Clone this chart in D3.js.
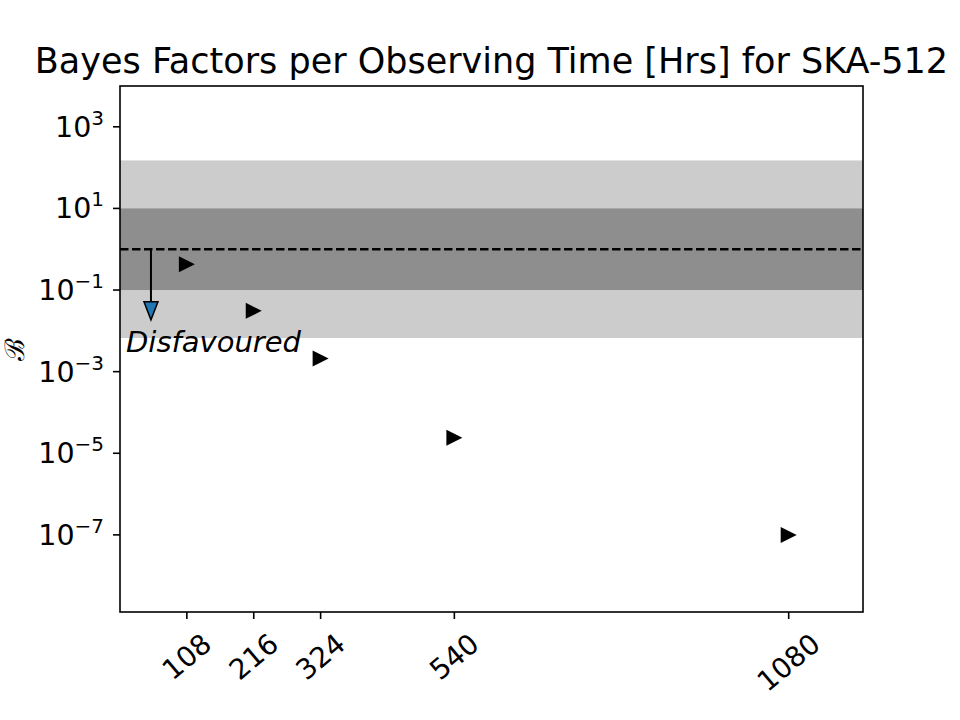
<!DOCTYPE html>
<html>
<head>
<meta charset="utf-8">
<script src="https://cdn.jsdelivr.net/npm/d3@7"></script>
<style>
  body { margin: 0; background: #fff; }
  svg { font-family: "DejaVu Sans", sans-serif; }
</style>
</head>
<body>
<svg width="960" height="720"></svg>
<script>
// Данные графика
const times = [108, 216, 324, 540, 1080];
const bayes = [0.43, 0.031, 0.0021, 2.4e-5, 1e-7];
const tickExps = [3, 1, -1, -3, -5, -7];
const bandInner = [0.1, 10];
const bandOuter = [1 / 150, 150];
const refLine = 1;
const arrowX = 50;
const arrowFrom = 1;
const arrowTo = 0.0186;

const width = 960, height = 720;
const m = { left: 120, right: 863, top: 86, bottom: 612 };

const svg = d3.select("svg");

const x = d3.scaleLinear().domain([0, 1200]).range([m.left, m.right]);
const y = d3.scaleLog().domain([Math.pow(10, -8.89), Math.pow(10, 4.0)]).range([m.bottom, m.top]);

// Полосы
svg.append("rect")
  .attr("x", m.left).attr("width", m.right - m.left)
  .attr("y", y(bandOuter[1])).attr("height", y(bandOuter[0]) - y(bandOuter[1]))
  .attr("fill", "#cccccc");
svg.append("rect")
  .attr("x", m.left).attr("width", m.right - m.left)
  .attr("y", y(bandInner[1])).attr("height", y(bandInner[0]) - y(bandInner[1]))
  .attr("fill", "#8e8e8e");

// Пунктирная линия
svg.append("line")
  .attr("x1", m.left).attr("x2", m.right)
  .attr("y1", y(refLine)).attr("y2", y(refLine))
  .attr("stroke", "#000").attr("stroke-width", 2.5)
  .attr("stroke-dasharray", "8.5,3.5");

// Стрелка
const ax = x(arrowX), ay0 = y(arrowFrom), ay1 = y(arrowTo);
const headLen = 18, headW = 7;
svg.append("line")
  .attr("x1", ax).attr("x2", ax)
  .attr("y1", ay0).attr("y2", ay1 - headLen)
  .attr("stroke", "#000").attr("stroke-width", 2);
svg.append("path")
  .attr("d", `M${ax - headW},${ay1 - headLen} L${ax + headW},${ay1 - headLen} L${ax},${ay1} Z`)
  .attr("fill", "#1f77b4").attr("stroke", "#000").attr("stroke-width", 1.5)
  .attr("stroke-linejoin", "miter");

svg.append("text")
  .attr("x", 126).attr("y", 352)
  .attr("font-size", 29).attr("font-style", "italic")
  .text("Disfavoured");

// Точки-треугольники
const tri = 8;
svg.append("g").selectAll("path")
  .data(times.map((t, i) => ({ t, b: bayes[i] })))
  .join("path")
  .attr("d", d => {
    const cx = x(d.t), cy = y(d.b);
    return `M${cx - tri},${cy - tri} L${cx + tri},${cy} L${cx - tri},${cy + tri} Z`;
  })
  .attr("fill", "#000");

// Рамка
svg.append("rect")
  .attr("x", m.left).attr("y", m.top)
  .attr("width", m.right - m.left).attr("height", m.bottom - m.top)
  .attr("fill", "none").attr("stroke", "#000").attr("stroke-width", 1.6);

// Ось Y
const yt = svg.append("g");
tickExps.forEach(e => {
  const ty = y(Math.pow(10, e));
  yt.append("line")
    .attr("x1", m.left - 7).attr("x2", m.left)
    .attr("y1", ty).attr("y2", ty)
    .attr("stroke", "#000").attr("stroke-width", 1.6);
  const t = yt.append("text")
    .attr("x", m.left - 16).attr("y", ty + 10)
    .attr("text-anchor", "end").attr("font-size", 28.5);
  t.append("tspan").text("10");
  t.append("tspan").attr("dy", -12).attr("font-size", 20)
    .text(e < 0 ? "\u2212" + Math.abs(e) : String(e));
});

// Ось X
const xt = svg.append("g");
times.forEach(v => {
  const tx = x(v);
  xt.append("line")
    .attr("x1", tx).attr("x2", tx)
    .attr("y1", m.bottom).attr("y2", m.bottom + 7)
    .attr("stroke", "#000").attr("stroke-width", 1.6);
  const lbl = xt.append("text")
    .attr("font-size", 28).attr("text-anchor", "middle")
    .attr("dominant-baseline", "central")
    .text(v);
  const w = lbl.node().getComputedTextLength();
  const h = 20;
  const a = 40 * Math.PI / 180;
  const bh = w * Math.sin(a) + h * Math.cos(a);
  const cy = m.bottom + 20 + bh / 2;
  lbl.attr("transform", `translate(${tx},${cy}) rotate(-40)`);
});

// Подпись оси Y
svg.append("text")
  .attr("transform", `translate(24,${(m.top + m.bottom) / 2}) rotate(-90)`)
  .attr("text-anchor", "middle")
  .attr("font-family", "DejaVu Serif, serif")
  .attr("font-size", 27)
  .text("\u212C");

// Заголовок
svg.append("text")
  .attr("x", (m.left + m.right) / 2).attr("y", 73)
  .attr("text-anchor", "middle").attr("font-size", 35)
  .text("Bayes Factors per Observing Time [Hrs] for SKA-512");
</script>
</body>
</html>
